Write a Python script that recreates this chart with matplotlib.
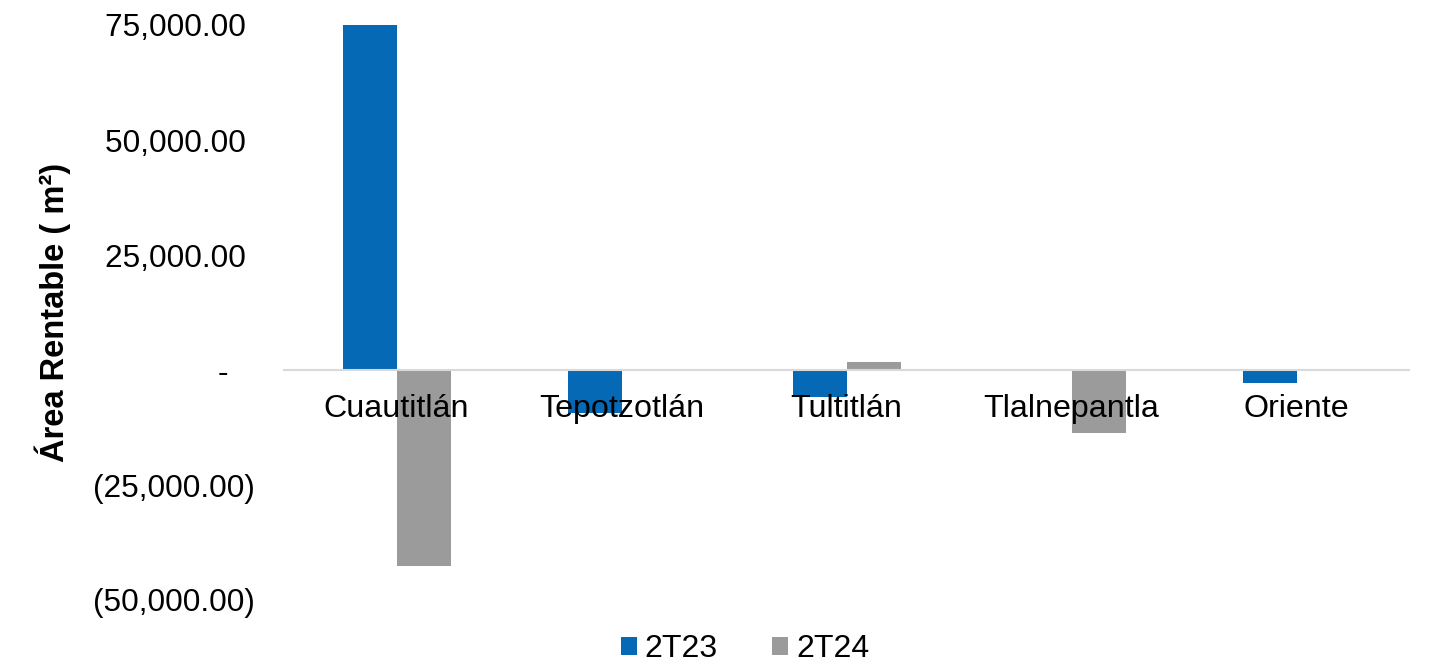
import matplotlib
matplotlib.use("Agg")
import matplotlib.pyplot as plt
import numpy as np
from matplotlib.ticker import FuncFormatter

plt.rcParams['font.family'] = ['Liberation Sans', 'DejaVu Sans']

categories = ["Cuautitlán", "Tepotzotlán", "Tultitlán", "Tlalnepantla", "Oriente"]
series_names = ["2T23", "2T24"]
values_2t23 = [75400, -9400, -5900, 0, -2800]
values_2t24 = [-42600, 0, 1800, -13800, 0]
colors = ["#0569B5", "#9B9B9B"]
yticks = [-50000, -25000, 0, 25000, 50000, 75000]

fig = plt.figure(figsize=(14.56, 6.64), dpi=100)
ax = fig.add_axes([284/1456, 1 - 600/664, (1409-284)/1456, (600-25)/664])

x = np.arange(len(categories))
w = 0.24
ax.bar(x - w/2, values_2t23, w, color=colors[0], label=series_names[0])
ax.bar(x + w/2, values_2t24, w, color=colors[1], label=series_names[1])

ax.set_xlim(-0.5, len(categories) - 0.5)
ax.set_ylim(-50000, 75000)
ax.set_yticks(yticks)

def fmt(v, pos):
    if v == 0:
        return "-   "
    if v < 0:
        return "({:,.2f})".format(-v)
    return "{:,.2f} ".format(v)

ax.yaxis.set_major_formatter(FuncFormatter(fmt))
ax.tick_params(axis='y', length=0, labelsize=22.8, pad=21)

for s in ['top', 'right', 'left']:
    ax.spines[s].set_visible(False)
ax.spines['bottom'].set_position(('data', 0))
ax.spines['bottom'].set_color('#D9D9D9')
ax.spines['bottom'].set_linewidth(1.5)
ax.set_xticks(x)
ax.set_xticklabels(categories)
ax.tick_params(axis='x', length=0, labelsize=23.2, pad=17)
for lbl in ax.get_xticklabels():
    lbl.set_zorder(5)

ax.set_ylabel("Área Rentable ( m²)", fontsize=23.5, fontweight='bold')
ax.yaxis.set_label_coords(-(284-71)/1125, (600-312)/575)

leg = fig.legend(loc='center', bbox_to_anchor=(745/1456, 1 - 649/664), ncol=2, frameon=False,
                 fontsize=23, handlelength=0.5, handleheight=0.5, handletextpad=0.25,
                 columnspacing=1.7, borderpad=0)

fig.savefig("out.png", dpi=100)
